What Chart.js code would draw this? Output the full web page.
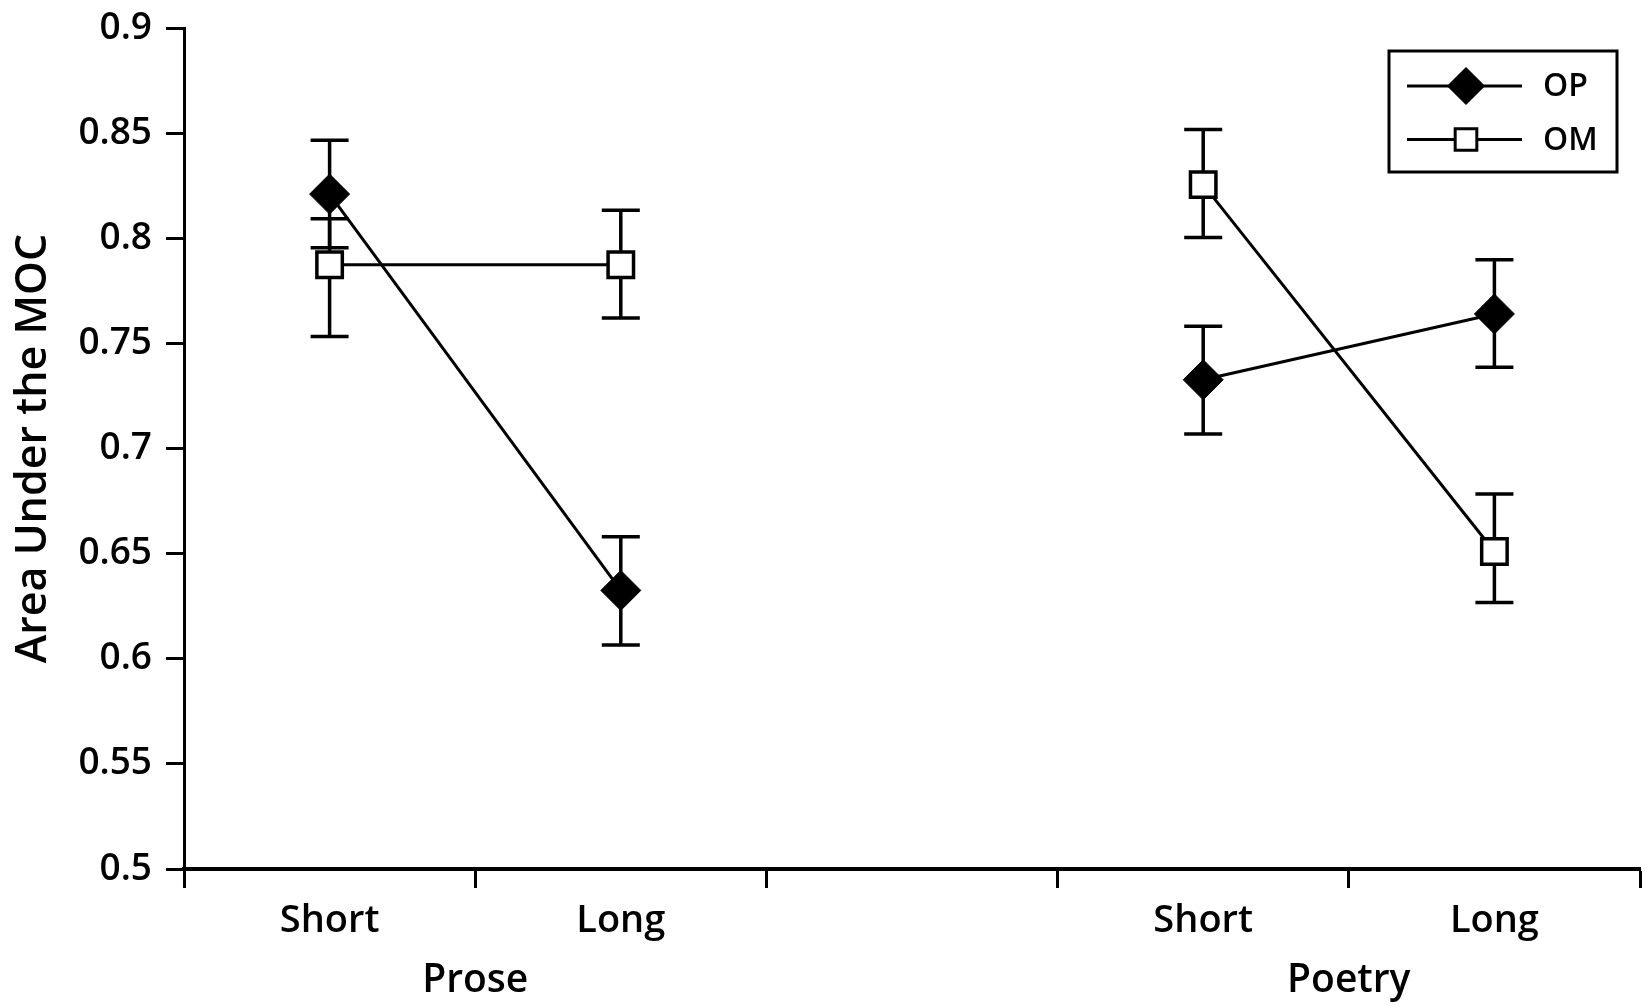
<!DOCTYPE html>
<html><head><meta charset="utf-8">
<script src="https://cdn.jsdelivr.net/npm/chart.js@4.4.0/dist/chart.umd.min.js"></script>
<style>html,body{margin:0;padding:0;background:#fff;overflow:hidden;} #wrap{width:1648px;height:1005px;position:relative;background:#fff;}</style>
</head><body><div id="wrap"><canvas id="c"></canvas></div>
<script>
// ---- data ----
const categories = ['Short', 'Long', '', 'Short', 'Long'];
const groupLabels = ['Prose', 'Poetry'];
const groupPositions = [1, 4];
const yTickValues = [0.5, 0.55, 0.6, 0.65, 0.7, 0.75, 0.8, 0.85, 0.9];
const yTickLabels = ['0.5', '0.55', '0.6', '0.65', '0.7', '0.75', '0.8', '0.85', '0.9'];
const seriesNames = ['OP', 'OM'];
const opValues = [0.821, 0.6325, null, 0.7327, 0.764];
const opLow    = [0.7955, 0.6065, null, 0.7069, 0.7386];
const opHigh   = [0.8466, 0.658, null, 0.7581, 0.7898];
const omValues = [0.7874, 0.7874, null, 0.8255, 0.651];
const omLow    = [0.7533, 0.7621, null, 0.8004, 0.6268];
const omHigh   = [0.8093, 0.8133, null, 0.8517, 0.6784];
const yTitle = 'Area Under the MOC';

Chart.defaults.font.family = "'Open Sans', sans-serif";
Chart.defaults.font.weight = 600;
Chart.defaults.color = '#000';

const errorSets = [[opLow, opHigh], [omLow, omHigh]];

const errorBars = {
  id: 'errorBars',
  beforeDatasetsDraw(chart) {
    const ctx = chart.ctx, ys = chart.scales.y;
    errorSets.forEach((pair, di) => {
      const meta = chart.getDatasetMeta(di);
      meta.data.forEach((pt, i) => {
        if (pair[0][i] == null) return;
        const x = pt.x, y1 = ys.getPixelForValue(pair[0][i]), y2 = ys.getPixelForValue(pair[1][i]);
        ctx.save();
        ctx.strokeStyle = '#000'; ctx.lineWidth = 3.5;
        ctx.beginPath();
        ctx.moveTo(x, y1); ctx.lineTo(x, y2);
        ctx.moveTo(x - 19, y1); ctx.lineTo(x + 19, y1);
        ctx.moveTo(x - 19, y2); ctx.lineTo(x + 19, y2);
        ctx.stroke();
        ctx.restore();
      });
    });
  }
};

const legendBox = {
  id: 'legendBox',
  afterDraw(chart) {
    const ctx = chart.ctx, ca = chart.chartArea;
    const w = 228, h = 121;
    const left = ca.right - 23 - w, top = ca.top + 23;
    ctx.save();
    ctx.strokeStyle = '#000'; ctx.lineWidth = 3;
    ctx.strokeRect(left, top, w, h);
    chart.data.datasets.forEach((ds, i) => {
      const y = top + 35 + i * 53.5;
      ctx.strokeStyle = '#000'; ctx.lineWidth = 3;
      ctx.beginPath(); ctx.moveTo(left + 18, y); ctx.lineTo(left + 133, y); ctx.stroke();
      ctx.fillStyle = ds.pointBackgroundColor; ctx.strokeStyle = ds.pointBorderColor;
      Chart.helpers.drawPoint(ctx, {pointStyle: ds.pointStyle, radius: ds.pointRadius * 0.85, borderWidth: ds.pointBorderWidth, rotation: 0}, left + 77, y);
      ctx.fillStyle = '#000';
      ctx.font = "600 32px 'Open Sans', sans-serif";
      ctx.textAlign = 'left'; ctx.textBaseline = 'middle';
      ctx.fillText(ds.label, left + 154, y + 1);
    });
    ctx.restore();
  }
};

new Chart(document.getElementById('c'), {
  type: 'line',
  data: {
    labels: categories,
    datasets: [
      { label: seriesNames[0], data: opValues, borderColor: '#000', borderWidth: 3, tension: 0,
        pointStyle: 'rectRot', pointRadius: 20, pointBackgroundColor: '#000', pointBorderColor: '#000', pointBorderWidth: 1, spanGaps: false },
      { label: seriesNames[1], data: omValues, borderColor: '#000', borderWidth: 3, tension: 0,
        pointStyle: 'rect', pointRadius: 18, pointBackgroundColor: '#fff', pointBorderColor: '#000', pointBorderWidth: 3.5, spanGaps: false }
    ]
  },
  options: {
    responsive: true, maintainAspectRatio: false, animation: false,
    layout: { autoPadding: false, padding: { left: 0, right: 8, top: 28, bottom: 0 } },
    plugins: { legend: { display: false }, tooltip: { enabled: false } },
    scales: {
      x: {
        type: 'category', position: 'bottom', weight: 1, offset: true,
        grid: { offset: true, drawOnChartArea: false, drawTicks: true, tickLength: 19, tickWidth: 3, tickColor: '#000' },
        border: { display: true, color: '#000', width: 4 },
        ticks: { font: { size: 38 }, padding: 10, maxRotation: 0, autoSkip: false },
        afterFit(s) { s.height = 80; s.paddingLeft = 0; s.paddingRight = 0; }
      },
      x2: {
        type: 'linear', position: 'bottom', weight: 2, min: 0, max: 5,
        grid: { display: false, drawTicks: false },
        border: { display: false },
        afterBuildTicks(s) { s.ticks = groupPositions.map(v => ({ value: v })); },
        ticks: { font: { size: 39 }, padding: 8, maxRotation: 0, autoSkip: false,
          callback: (v) => groupLabels[groupPositions.indexOf(v)] },
        afterFit(s) { s.height = 56; s.paddingLeft = 0; s.paddingRight = 0; }
      },
      y: {
        type: 'linear', position: 'left', min: 0.5, max: 0.9,
        afterBuildTicks(s) { s.ticks = yTickValues.map(v => ({ value: v })); },
        grid: { drawOnChartArea: false, drawTicks: true, tickLength: 18, tickWidth: 3, tickColor: '#000' },
        border: { display: true, color: '#000', width: 3 },
        ticks: { font: { size: 37 }, padding: 14,
          callback: (v) => yTickLabels[yTickValues.indexOf(v)] },
        title: { display: true, text: yTitle, font: { size: 43 }, padding: { top: 8, bottom: 0 } },
        afterFit(s) { s.width = 184; s.paddingTop = 0; s.paddingBottom = 0; }
      }
    }
  },
  plugins: [errorBars, legendBox]
});
</script>
</body></html>
